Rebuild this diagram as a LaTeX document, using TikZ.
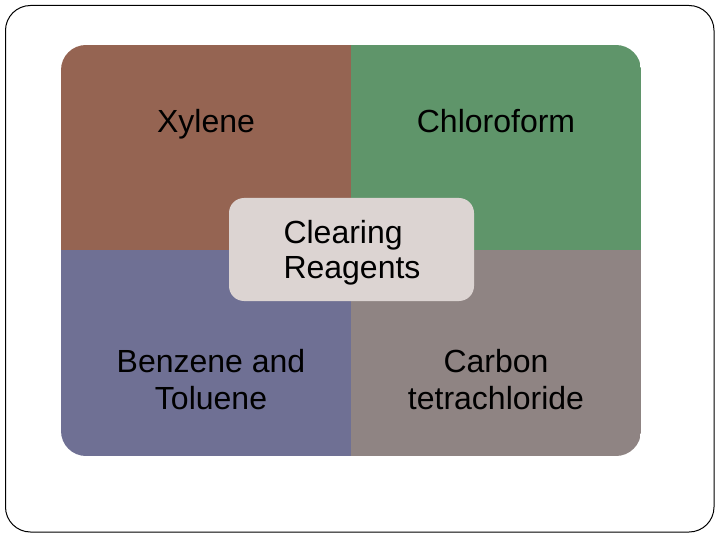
\documentclass[tikz,border=0pt]{standalone}
\usepackage{fontspec}
\setmainfont{Liberation Sans}

\definecolor{xylenebrown}{HTML}{956452}
\definecolor{chlorogreen}{HTML}{5F956A}
\definecolor{benzeneblue}{HTML}{6F7094}
\definecolor{carbongray}{HTML}{8F8483}
\definecolor{centrefill}{HTML}{DCD4D2}

\begin{document}
\begin{tikzpicture}[x=1pt, y=-1pt,
                    label text/.style={font=\fontsize{32}{37}\selectfont, align=center, text=black},
                    centre box/.style={rectangle, rounded corners=15pt, fill=centrefill,
                                       minimum width=245pt, minimum height=103pt}]

  \useasboundingbox (0,0) rectangle (720,540);

  % outer frame
  \draw[line width=1pt, rounded corners=25pt] (5.5,5.5) rectangle (714,532);

  % four quadrants
  \begin{scope}
    \clip[rounded corners=25pt] (61,45) rectangle (641,456);
    \fill[xylenebrown] (61,45) rectangle (351,250);
    \fill[chlorogreen] (351,45) rectangle (641,250);
    \fill[benzeneblue] (61,250) rectangle (351,456);
    \fill[carbongray] (351,250) rectangle (641,456);
  \end{scope}

  \node[label text, anchor=base] (xyl) at (206,133) {Xylene};
  \node[label text, anchor=base] (chl) at (496,133) {Chloroform};
  \node[label text] (benz) at (211,380) {Benzene and\\Toluene};
  \node[label text] (carb) at (496,380) {Carbon\\tetrachloride};

  \node[centre box] (clear) at (351.5,249.5) {};
  \node[label text, align=left, font=\fontsize{32}{35}\selectfont] (cleartxt) at (352,253) {Clearing\\Reagents};

\end{tikzpicture}
\end{document}
